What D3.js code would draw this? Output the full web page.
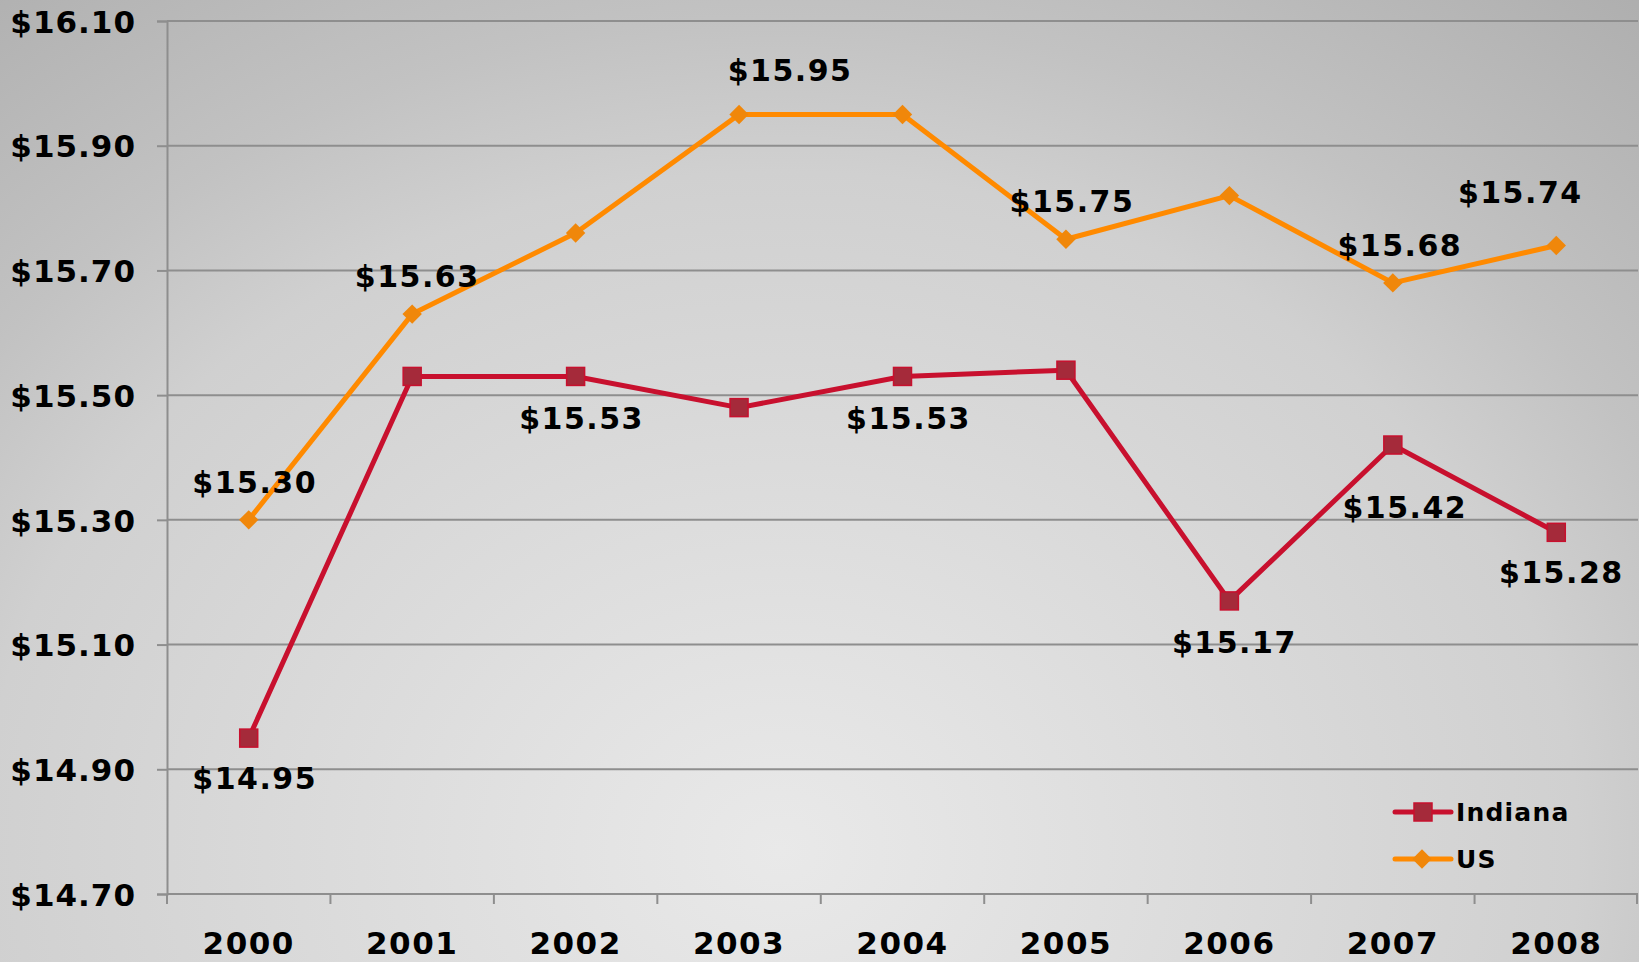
<!DOCTYPE html>
<html>
<head>
<meta charset="utf-8">
<script src="https://cdn.jsdelivr.net/npm/d3@7"></script>
<style>
  html, body { margin: 0; padding: 0; overflow: hidden; }
  svg { display: block; font-family: "DejaVu Sans", Verdana, sans-serif; font-weight: bold; }
</style>
</head>
<body>
<div id="chart"></div>
<script>
// data
const years = ["2000", "2001", "2002", "2003", "2004", "2005", "2006", "2007", "2008"];
const indiana = [14.95, 15.53, 15.53, 15.48, 15.53, 15.54, 15.17, 15.42, 15.28];
const us = [15.30, 15.63, 15.76, 15.95, 15.95, 15.75, 15.82, 15.68, 15.74];
const yTicks = [14.70, 14.90, 15.10, 15.30, 15.50, 15.70, 15.90, 16.10];
// which points carry a value label
const indianaLabelled = [true, false, true, false, true, false, true, true, true];
const usLabelled = [true, true, false, true, false, true, false, true, true];

// label offsets from the point (layout only)
const indianaLabelOffset = [[6, 40], null, [6, 42], null, [6, 42], null, [5, 41], [12, 62], [5, 40]];
const usLabelOffset = [[6, -38], [5, -38], null, [51, -44], null, [6, -38], null, [7, -38], [-36, -53]];

const W = 1639, H = 962;
const mLeft = 167, mRight = 1638, mTop = 21, mBottom = 894;

const svg = d3.select("#chart").append("svg")
  .attr("width", W).attr("height", H);

// background gradient (elliptical, light around bottom centre-left)
const defs = svg.append("defs");
const grad = defs.append("radialGradient")
  .attr("id", "bg")
  .attr("gradientUnits", "userSpaceOnUse")
  .attr("cx", 780).attr("cy", 850).attr("r", 1400)
  .attr("gradientTransform", "translate(780,850) scale(1,0.85) translate(-780,-850)");
grad.append("stop").attr("offset", "0%").attr("stop-color", "#e9e9e9");
grad.append("stop").attr("offset", "12%").attr("stop-color", "#e4e4e4");
grad.append("stop").attr("offset", "57%").attr("stop-color", "#d0d0d0");
grad.append("stop").attr("offset", "70%").attr("stop-color", "#c2c2c2");
grad.append("stop").attr("offset", "100%").attr("stop-color", "#aaaaaa");
svg.append("rect").attr("width", W).attr("height", H).attr("fill", "url(#bg)");

const x = d3.scaleBand().domain(years).range([mLeft, mRight]);
const y = d3.scaleLinear().domain([14.70, 16.10]).range([mBottom, mTop]);
const cx = d => x(d) + x.bandwidth() / 2;

// gridlines
svg.append("g").selectAll("line").data(yTicks.slice(1)).join("line")
  .attr("x1", mLeft).attr("x2", mRight)
  .attr("y1", d => y(d)).attr("y2", d => y(d))
  .attr("stroke", "#8e8e8e").attr("stroke-width", 2);

// y axis
const yAxis = svg.append("g")
  .attr("transform", `translate(${mLeft},0)`)
  .call(d3.axisLeft(y).tickValues(yTicks).tickSize(10).tickPadding(21)
    .tickFormat(d => "$" + d3.format(".2f")(d)));
yAxis.select(".domain").attr("stroke", "#8e8e8e").attr("stroke-width", 2);
yAxis.selectAll(".tick line").attr("stroke", "#8e8e8e").attr("stroke-width", 2);
yAxis.selectAll("text").attr("font-size", 31).attr("font-weight", "bold")
  .attr("font-family", "DejaVu Sans, sans-serif").attr("fill", "#000").attr("dy", "0.36em")
  .attr("letter-spacing", 1);

// x axis (ticks at band boundaries)
const xAxisG = svg.append("g");
xAxisG.append("line").attr("x1", mLeft).attr("x2", mRight).attr("y1", mBottom).attr("y2", mBottom)
  .attr("stroke", "#8e8e8e").attr("stroke-width", 2);
const bounds = years.map(d => x(d)).concat([mRight - 1]);
xAxisG.selectAll(".xt").data(bounds).join("line")
  .attr("x1", d => d).attr("x2", d => d)
  .attr("y1", mBottom).attr("y2", mBottom + 10)
  .attr("stroke", "#8e8e8e").attr("stroke-width", 2);
xAxisG.selectAll("text").data(years).join("text")
  .attr("x", d => cx(d)).attr("y", mBottom + 60)
  .attr("text-anchor", "middle").attr("font-size", 31).attr("fill", "#000")
  .attr("letter-spacing", 1.5)
  .text(d => d);

const line = d3.line().x(d => cx(d.year)).y(d => y(d.v));
const indData = years.map((yr, i) => ({ year: yr, v: indiana[i], i }));
const usData = years.map((yr, i) => ({ year: yr, v: us[i], i }));

const red = "#c8102e", redFill = "#a52a3a", orange = "#ff8a00", orangeFill = "#f0870a";

// Indiana series
svg.append("path").datum(indData).attr("d", line)
  .attr("fill", "none").attr("stroke", red).attr("stroke-width", 5).attr("stroke-linejoin", "round");
svg.append("g").selectAll("rect").data(indData).join("rect")
  .attr("x", d => cx(d.year) - 9).attr("y", d => y(d.v) - 9)
  .attr("width", 18).attr("height", 18)
  .attr("fill", redFill).attr("stroke", red).attr("stroke-width", 1.5);

// US series
svg.append("path").datum(usData).attr("d", line)
  .attr("fill", "none").attr("stroke", orange).attr("stroke-width", 5).attr("stroke-linejoin", "round");
const diamond = d3.symbol().type(d3.symbolDiamond2).size(240);
svg.append("g").selectAll("path").data(usData).join("path")
  .attr("d", diamond)
  .attr("transform", d => `translate(${cx(d.year)},${y(d.v)})`)
  .attr("fill", orangeFill);

// value labels
const fmt = d => "$" + d3.format(".2f")(d);
function labels(data, flags, offsets) {
  svg.append("g").selectAll("text").data(data.filter(d => flags[d.i])).join("text")
    .attr("x", d => cx(d.year) + offsets[d.i][0])
    .attr("y", d => y(d.v) + offsets[d.i][1])
    .attr("dy", "0.36em")
    .attr("text-anchor", "middle").attr("font-size", 30).attr("fill", "#000")
    .attr("letter-spacing", 1.5)
    .text(d => fmt(d.v));
}
labels(indData, indianaLabelled, indianaLabelOffset);
labels(usData, usLabelled, usLabelOffset);

// legend
const legend = svg.append("g").attr("transform", "translate(1395,812)");
const series = [
  { name: "Indiana", color: red, fill: redFill, shape: "square" },
  { name: "US", color: orange, fill: orangeFill, shape: "diamond" }
];
series.forEach((s, i) => {
  const g = legend.append("g").attr("transform", `translate(0,${i * 47})`);
  g.append("line").attr("x1", 0).attr("x2", 56).attr("stroke", s.color)
    .attr("stroke-width", 5).attr("stroke-linecap", "round");
  if (s.shape === "square") {
    g.append("rect").attr("x", 19).attr("y", -9).attr("width", 18).attr("height", 18)
      .attr("fill", s.fill).attr("stroke", s.color).attr("stroke-width", 1.5);
  } else {
    g.append("path").attr("d", diamond).attr("transform", "translate(27,0)").attr("fill", s.fill);
  }
  g.append("text").attr("x", 61).attr("dy", "0.36em").attr("font-size", 25)
    .attr("letter-spacing", 1.2).attr("fill", "#000").text(s.name);
});
</script>
</body>
</html>
